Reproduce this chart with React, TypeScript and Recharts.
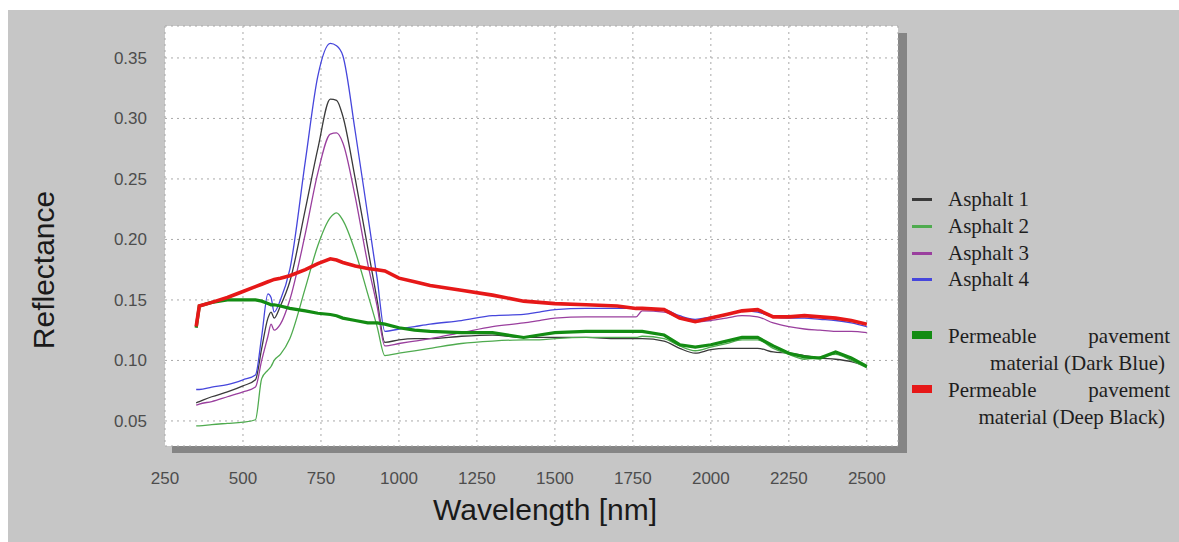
// Spectral reflectance of asphalt samples vs permeable pavement materials.
import { CartesianGrid, Line, LineChart, XAxis, YAxis } from 'recharts'

const wavelengths = [
  350, 360, 400, 450, 500, 540, 560, 580, 590, 600, 620, 650, 700, 740, 780, 800, 820, 860, 900, 930,
  955, 1000, 1050, 1100, 1200, 1300, 1400, 1450, 1500, 1600, 1700, 1760, 1780, 1850, 1900, 1950, 2000,
  2050, 2100, 2150, 2200, 2250, 2300, 2350, 2400, 2450, 2500,
]

const asphalt1 = [
  0.065, 0.066, 0.07, 0.074, 0.079, 0.084, 0.11, 0.135, 0.14, 0.135, 0.145, 0.165, 0.225, 0.275, 0.316,
  0.315, 0.302, 0.25, 0.193, 0.15, 0.115, 0.117, 0.118, 0.118, 0.12, 0.121, 0.119, 0.119, 0.119, 0.119,
  0.118, 0.118, 0.118, 0.116, 0.11, 0.106, 0.109, 0.11, 0.11, 0.11, 0.107, 0.106, 0.104, 0.102, 0.101,
  0.099, 0.095,
]
const asphalt2 = [
  0.046, 0.046, 0.047, 0.048, 0.049, 0.051, 0.085, 0.092, 0.095, 0.1, 0.105, 0.118, 0.16, 0.195, 0.218,
  0.222, 0.216, 0.19, 0.155, 0.128, 0.104, 0.106, 0.108, 0.11, 0.114, 0.116, 0.117, 0.117, 0.118, 0.119,
  0.119, 0.119, 0.12, 0.118, 0.112, 0.108, 0.111, 0.114, 0.117, 0.117, 0.11, 0.105, 0.101, 0.103, 0.105,
  0.1, 0.094,
]
const asphalt3 = [
  0.063, 0.064, 0.066, 0.07, 0.074, 0.078, 0.1, 0.12, 0.13, 0.125, 0.13, 0.15, 0.205, 0.255, 0.287, 0.288,
  0.28, 0.235, 0.18, 0.145, 0.112, 0.114, 0.116, 0.118, 0.123, 0.128, 0.131, 0.133, 0.135, 0.136, 0.136,
  0.136, 0.141, 0.14, 0.135, 0.132, 0.133, 0.135, 0.137, 0.136, 0.131, 0.128, 0.126, 0.125, 0.124, 0.124,
  0.123,
]
const asphalt4 = [
  0.076, 0.076, 0.078, 0.08, 0.084, 0.088, 0.12, 0.155, 0.152, 0.14, 0.15, 0.175, 0.265, 0.335, 0.362,
  0.36, 0.352, 0.289, 0.22, 0.168, 0.124, 0.126, 0.128, 0.13, 0.133, 0.137, 0.138, 0.14, 0.142, 0.143,
  0.143, 0.143, 0.143, 0.142, 0.137, 0.134, 0.136, 0.138, 0.141, 0.14, 0.136, 0.135, 0.135, 0.134, 0.133,
  0.131, 0.128,
]
const permeableDarkBlue = [
  0.127, 0.145, 0.148, 0.15, 0.15, 0.15, 0.149, 0.147, 0.146, 0.146, 0.145, 0.143, 0.141, 0.139, 0.138,
  0.137, 0.135, 0.133, 0.131, 0.131, 0.13, 0.127, 0.125, 0.124, 0.123, 0.123, 0.119, 0.121, 0.123, 0.124,
  0.124, 0.124, 0.124, 0.121, 0.113, 0.111, 0.113, 0.116, 0.119, 0.119, 0.112, 0.106, 0.103, 0.102, 0.107,
  0.102, 0.095,
]
const permeableDeepBlack = [
  0.128, 0.145, 0.148, 0.152, 0.157, 0.161, 0.163, 0.165, 0.166, 0.167, 0.168, 0.17, 0.175, 0.18, 0.184,
  0.183, 0.181, 0.178, 0.176, 0.175, 0.174, 0.168, 0.165, 0.162, 0.158, 0.154, 0.149, 0.148, 0.147, 0.146,
  0.145, 0.143, 0.143, 0.142, 0.135, 0.132, 0.135, 0.138, 0.141, 0.142, 0.136, 0.136, 0.137, 0.136, 0.135,
  0.133, 0.13,
]

const xTicks = [250, 500, 750, 1000, 1250, 1500, 1750, 2000, 2250, 2500]
const yTicks = [0.05, 0.1, 0.15, 0.2, 0.25, 0.3, 0.35]

// small inward ticks along the bottom and left edges of the plot
const xMinorTicks: number[] = []
for (let w = 300; w <= 2550; w += 50) xMinorTicks.push(w)
const yMinorTicks: number[] = []
for (let k = 3; k <= 37; k++) yMinorTicks.push(k / 100)

const X_DOMAIN: [number, number] = [250, 2600]
const Y_DOMAIN: [number, number] = [0.0293, 0.3764]

const series = [
  { key: 'a1', name: 'Asphalt 1', color: '#3a3a3a', width: 1.3, curve: 'monotone' },
  { key: 'a2', name: 'Asphalt 2', color: '#4fab4f', width: 1.3, curve: 'monotone' },
  { key: 'a3', name: 'Asphalt 3', color: '#9a3f9e', width: 1.3, curve: 'monotone' },
  { key: 'a4', name: 'Asphalt 4', color: '#4646dc', width: 1.3, curve: 'monotone' },
  { key: 'pd', name: 'Permeable pavement material (Dark Blue)', color: '#138c13', width: 3.2, curve: 'linear' },
  { key: 'pr', name: 'Permeable pavement material (Deep Black)', color: '#e61818', width: 3.6, curve: 'linear' },
] as const

const rows = wavelengths.map((w, i) => ({
  w,
  a1: asphalt1[i],
  a2: asphalt2[i],
  a3: asphalt3[i],
  a4: asphalt4[i],
  pd: permeableDarkBlue[i],
  pr: permeableDeepBlack[i],
}))

const tickStyle = { fill: '#4d4d4d', fontSize: 17, fontFamily: '"Liberation Sans", Arial, sans-serif' }
const serif = '"Liberation Serif", "Times New Roman", serif'

function Swatch({ color, thick }: { color: string; thick?: boolean }) {
  return (
    <span
      style={{
        position: 'absolute',
        left: 912,
        width: 20,
        height: thick ? 8 : 3,
        marginTop: thick ? -4 : -1.5,
        background: color,
      }}
    />
  )
}

function LegendBox() {
  const row = (top: number, i: number) => (
    <div key={i} style={{ position: 'absolute', top, left: 0, height: 27, lineHeight: '27px' }}>
      <div style={{ position: 'absolute', top: 13.5 }}>
        <Swatch color={series[i].color} />
      </div>
      <span style={{ position: 'absolute', left: 948, whiteSpace: 'nowrap' }}>{series[i].name}</span>
    </div>
  )
  const block = (top: number, i: number, second: string) => (
    <div key={i} style={{ position: 'absolute', top, left: 0, lineHeight: '27px' }}>
      <div style={{ position: 'absolute', top: 12 }}>
        <Swatch color={series[i].color} thick />
      </div>
      <div
        style={{
          position: 'absolute',
          left: 948,
          width: 222,
          display: 'flex',
          justifyContent: 'space-between',
        }}
      >
        <span>Permeable</span>
        <span>pavement</span>
      </div>
      <div style={{ position: 'absolute', top: 27, left: 948, width: 217, textAlign: 'right', whiteSpace: 'nowrap' }}>
        {second}
      </div>
    </div>
  )
  return (
    <div style={{ position: 'absolute', left: 0, top: 0, fontFamily: serif, fontSize: 21, color: '#1e1e1e' }}>
      {row(186, 0)}
      {row(213, 1)}
      {row(240, 2)}
      {row(266, 3)}
      {block(323, 4, 'material (Dark Blue)')}
      {block(377, 5, 'material (Deep Black)')}
    </div>
  )
}

export default function App() {
  return (
    <div style={{ position: 'absolute', left: 0, top: 0, width: 1179, height: 542, overflow: 'hidden' }}>
      <div style={{ position: 'absolute', left: 8, top: 10, width: 1171, height: 532, background: '#c6c6c6' }} />
      {/* drop shadow of the plot panel */}
      <div style={{ position: 'absolute', left: 172, top: 33, width: 735, height: 420, background: '#858585' }} />
      <div style={{ position: 'absolute', left: 8, top: 10 }}>
        <LineChart width={1171} height={532} data={rows} margin={{ top: 16, right: 281, bottom: 56, left: 10 }}>
          <CartesianGrid fill="#ffffff" stroke="#a9a9a9" strokeDasharray="2 4" />
          <XAxis
            xAxisId="minor"
            type="number"
            dataKey="w"
            domain={X_DOMAIN}
            allowDataOverflow
            ticks={xMinorTicks}
            interval={0}
            height={0}
            mirror
            tick={false}
            axisLine={false}
            tickSize={4}
            stroke="#b5b5b5"
          />
          <XAxis
            type="number"
            dataKey="w"
            domain={X_DOMAIN}
            allowDataOverflow
            ticks={xTicks}
            interval={0}
            height={40}
            axisLine={false}
            tickLine={false}
            tickSize={0}
            tickMargin={26}
            tick={tickStyle}
          />
          <YAxis
            yAxisId="minor"
            type="number"
            domain={Y_DOMAIN}
            allowDataOverflow
            ticks={yMinorTicks}
            interval={0}
            width={0}
            mirror
            tick={false}
            axisLine={false}
            tickSize={4}
            stroke="#b5b5b5"
          />
          <YAxis
            type="number"
            domain={Y_DOMAIN}
            allowDataOverflow
            ticks={yTicks}
            interval={0}
            width={147}
            axisLine={false}
            tickLine={false}
            tickSize={0}
            tickMargin={18}
            tick={tickStyle}
            tickFormatter={(v: number) => v.toFixed(2)}
          />
          {series.map((s) => (
            <Line
              key={s.key}
              type={s.curve}
              dataKey={s.key}
              name={s.name}
              stroke={s.color}
              strokeWidth={s.width}
              dot={false}
              isAnimationActive={false}
            />
          ))}
        </LineChart>
      </div>
      <div
        style={{
          position: 'absolute',
          left: 44,
          top: 270,
          transform: 'translate(-50%, -50%) rotate(-90deg)',
          fontFamily: '"Liberation Sans", Arial, sans-serif',
          fontSize: 30,
          color: '#1a1a1a',
          whiteSpace: 'nowrap',
        }}
      >
        Reflectance
      </div>
      <div
        style={{
          position: 'absolute',
          left: 545,
          top: 510,
          transform: 'translate(-50%, -50%)',
          fontFamily: '"Liberation Sans", Arial, sans-serif',
          fontSize: 30,
          color: '#1a1a1a',
          whiteSpace: 'nowrap',
        }}
      >
        Wavelength [nm]
      </div>
      <LegendBox />
    </div>
  )
}
